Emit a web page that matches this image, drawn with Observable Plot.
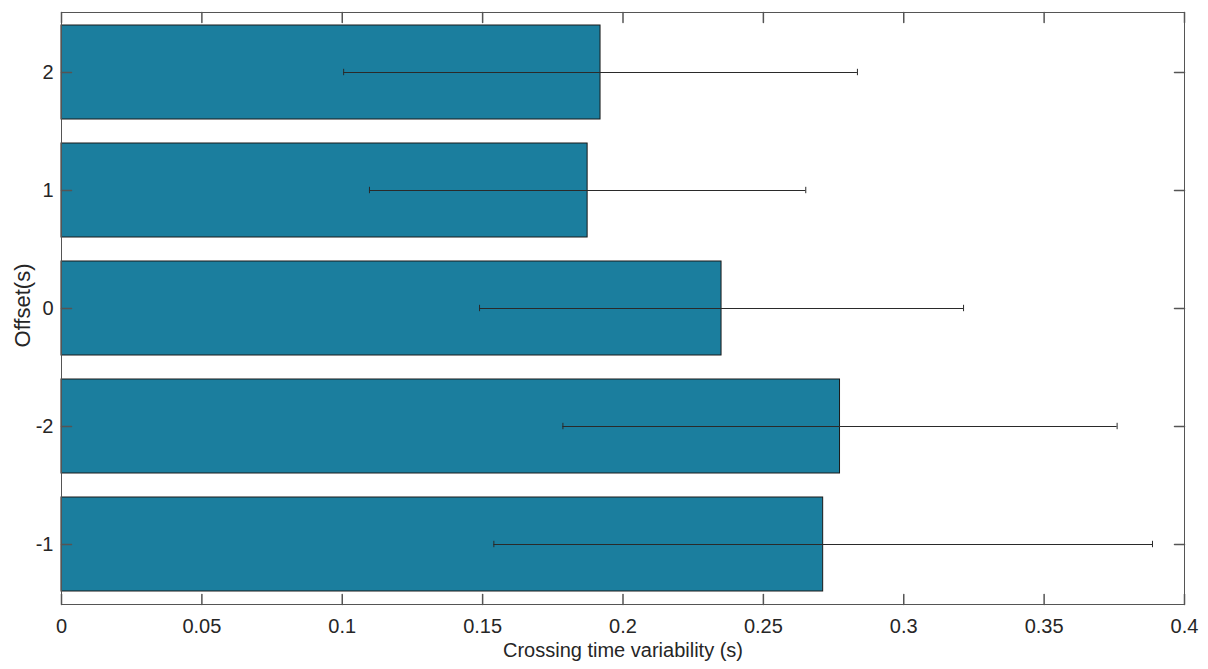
<!DOCTYPE html>
<html><head><meta charset="utf-8">
<script src="https://cdn.jsdelivr.net/npm/d3@7"></script>
<script src="https://cdn.jsdelivr.net/npm/@observablehq/plot@0.6"></script>
<style>
body{margin:0;background:#fff}
#chart svg{font-family:"Liberation Sans",Arial,Helvetica,sans-serif;background:#fff}
</style>
</head><body><div id="chart"></div>
<script>
const offsets = ["2", "1", "0", "-2", "-1"];
const values = [0.1920, 0.1874, 0.2351, 0.2773, 0.2713];
const errors = [0.0915, 0.0777, 0.0862, 0.0987, 0.1173];
const xTicks = [0, 0.05, 0.1, 0.15, 0.2, 0.25, 0.3, 0.35, 0.4];
const xTickLabels = ["0", "0.05", "0.1", "0.15", "0.2", "0.25", "0.3", "0.35", "0.4"];
const xLabel = "Crossing time variability (s)";
const yLabel = "Offset(s)";

const data = offsets.map((o, i) => ({offset: o, value: values[i], lo: values[i] - errors[i], hi: values[i] + errors[i]}));
const caps = data.flatMap(d => [{offset: d.offset, x: d.lo}, {offset: d.offset, x: d.hi}]);
const tickShape = {draw(ctx, l) { ctx.moveTo(0, 0); ctx.lineTo(0, -l); }};
const axisColor = "#555";
const textColor = "#262626";
const fs = 20;

const chart = Plot.plot({
  width: 1208,
  height: 669,
  marginLeft: 61,
  marginRight: 24,
  marginTop: 12,
  marginBottom: 65,
  style: {fontSize: fs + "px", color: textColor, background: "#fff"},
  x: {domain: [0, 0.4]},
  y: {domain: offsets, paddingInner: 0.2, paddingOuter: 0.1},
  marks: [
    Plot.barX(data, {x: "value", y: "offset", fill: "#1b7e9e", stroke: "#1a1a1a", strokeWidth: 1}),
    Plot.ruleY(data, {y: "offset", x1: "lo", x2: "hi", stroke: "#2a2a2a", strokeWidth: 1}),
    Plot.tickX(caps, {x: "x", y: "offset", stroke: "#2a2a2a", strokeWidth: 1, insetTop: 43.8, insetBottom: 43.8}),
    Plot.frame({stroke: axisColor, strokeWidth: 1}),
    Plot.vector(xTicks, {x: d => d, frameAnchor: "bottom", anchor: "start", length: 10, rotate: 0, shape: tickShape, stroke: axisColor}),
    Plot.vector(xTicks, {x: d => d, frameAnchor: "top", anchor: "start", length: 10, rotate: 180, shape: tickShape, stroke: axisColor}),
    Plot.vector(offsets, {y: d => d, frameAnchor: "left", anchor: "start", length: 10, rotate: 90, shape: tickShape, stroke: axisColor}),
    Plot.vector(offsets, {y: d => d, frameAnchor: "right", anchor: "start", length: 10, rotate: 270, shape: tickShape, stroke: axisColor}),
    Plot.axisX({ticks: xTicks, tickFormat: (d, i) => xTickLabels[i], tickSize: 0, tickPadding: 14, label: null, fill: textColor}),
    Plot.axisY({tickSize: 0, tickPadding: 8, label: null, fill: textColor}),
    Plot.text([xLabel], {text: d => d, frameAnchor: "bottom", textAnchor: "middle", lineAnchor: "middle", dy: 46, fill: textColor, fontSize: fs}),
    Plot.text([yLabel], {text: d => d, frameAnchor: "left", textAnchor: "middle", lineAnchor: "middle", dx: -39, dy: -3, rotate: -90, fill: textColor, fontSize: 22})
  ]
});
document.getElementById("chart").appendChild(chart);
</script>
</body></html>
